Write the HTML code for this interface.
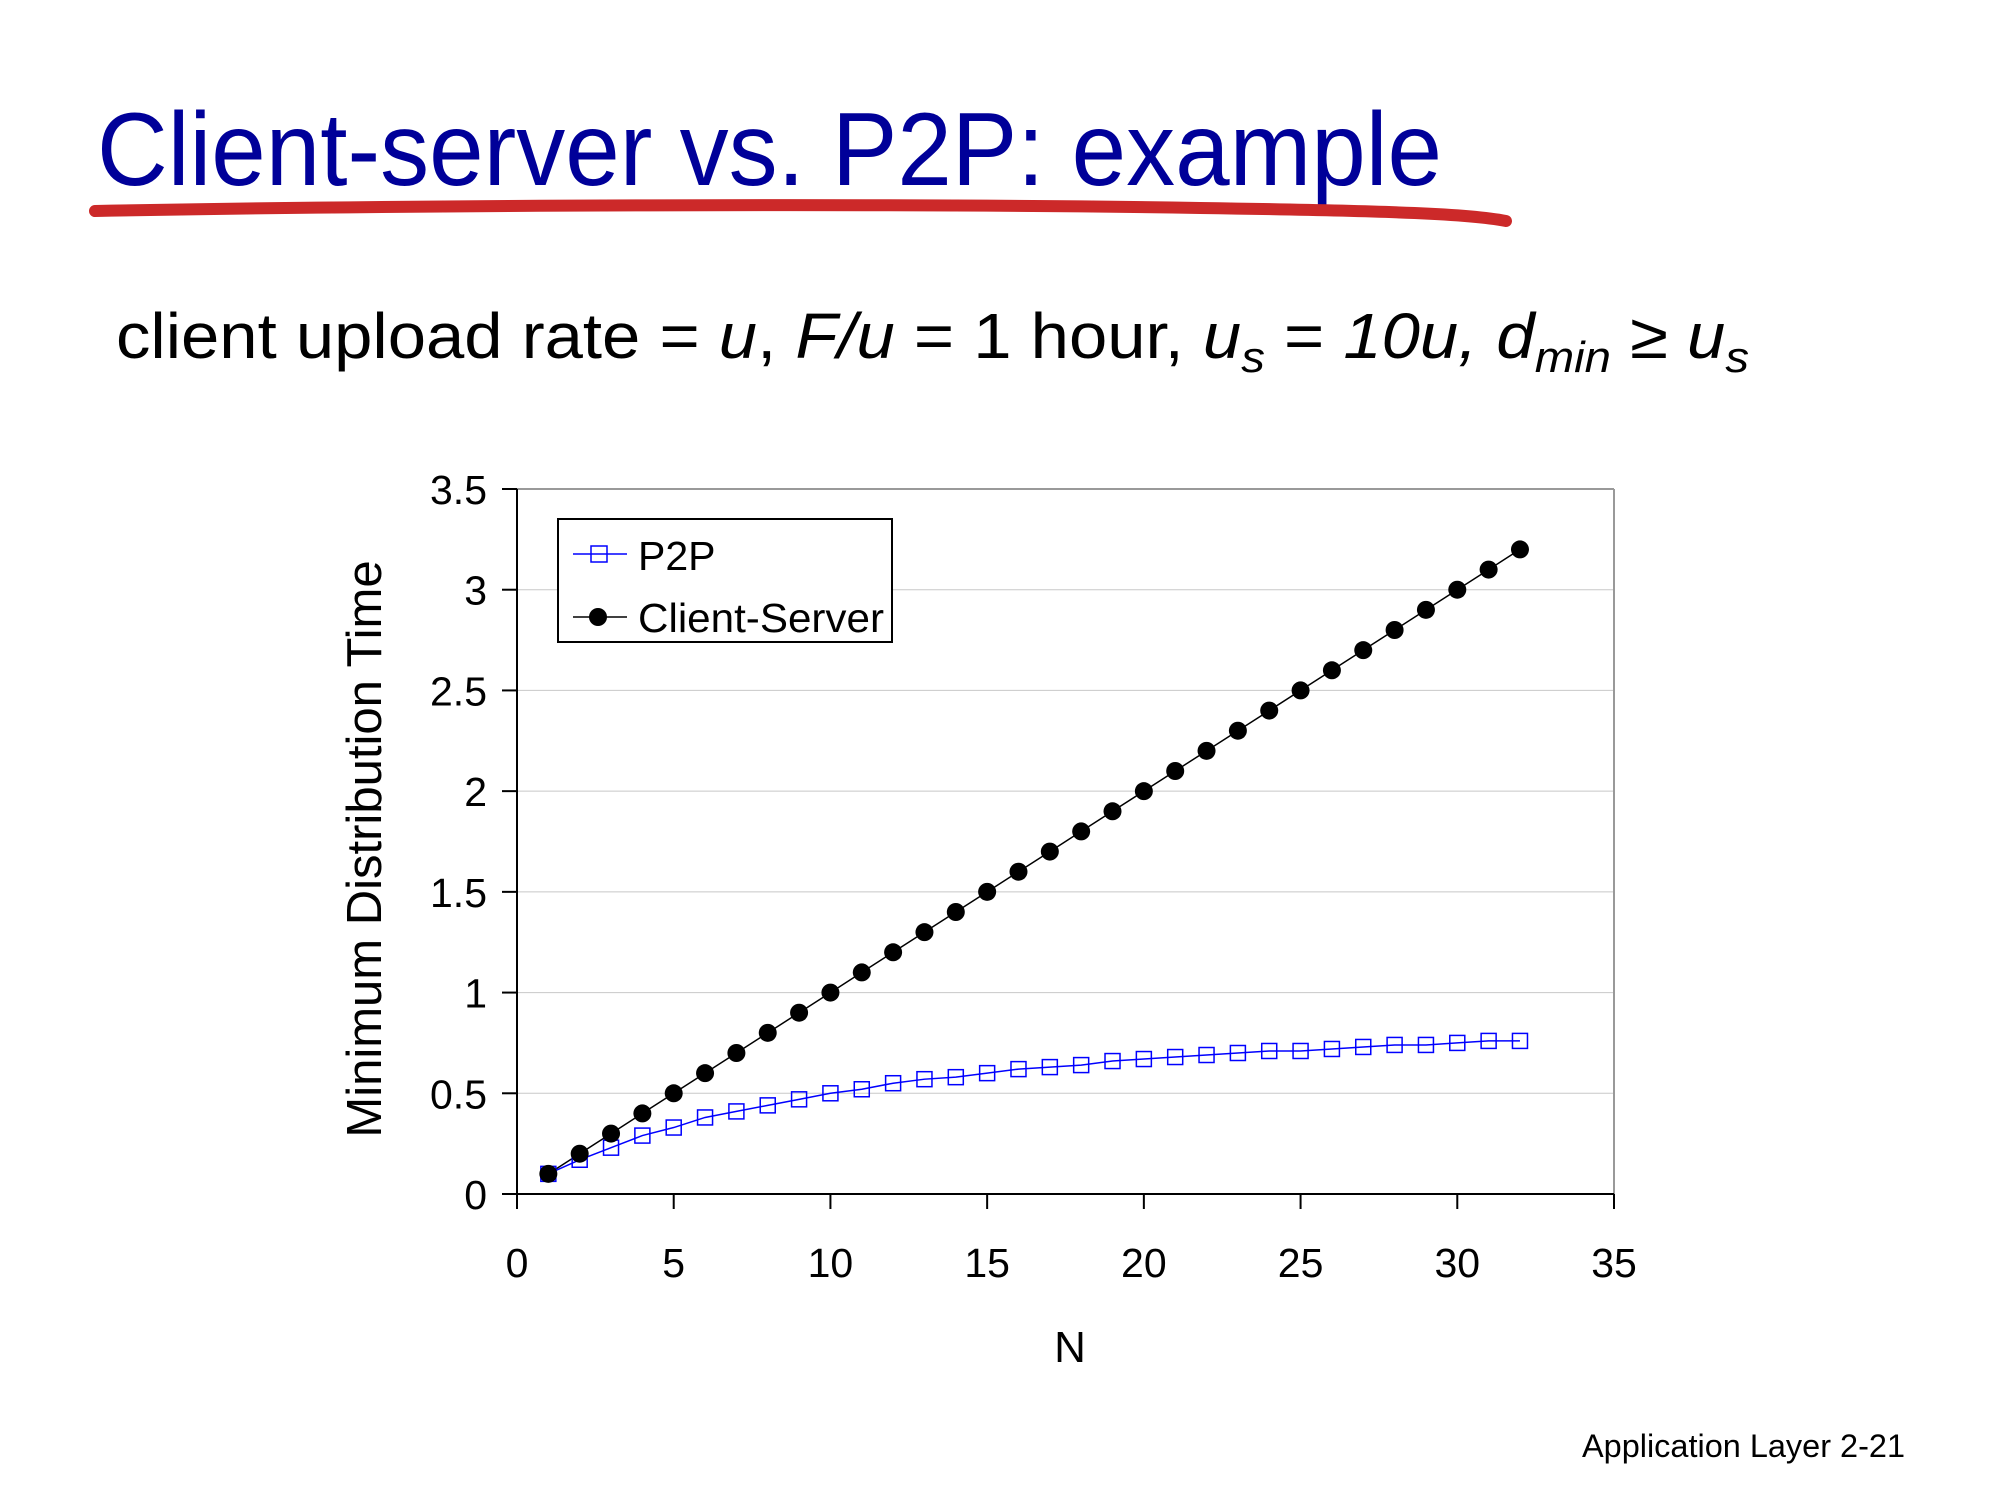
<!DOCTYPE html>
<html><head><meta charset="utf-8">
<style>
html,body{margin:0;padding:0;background:#fff;}
svg{display:block;font-family:"Liberation Sans",sans-serif;}
</style></head>
<body>
<svg id="page" width="2000" height="1500" viewBox="0 0 2000 1500" xmlns="http://www.w3.org/2000/svg">
  <text x="97" y="185" font-size="104" fill="#000099" textLength="1345" lengthAdjust="spacingAndGlyphs">Client-server vs. P2P: example</text>
  <path d="M95,211 C400,205 900,203 1200,208 C1400,211 1470,214 1506,221" stroke="#cc2929" stroke-width="12" fill="none" stroke-linecap="round"/>
  <text x="116" y="358" font-size="64" fill="#000" textLength="1633" lengthAdjust="spacingAndGlyphs">client upload rate = <tspan font-style="italic">u</tspan>,  <tspan font-style="italic">F/u</tspan> = 1 hour,  <tspan font-style="italic">u</tspan><tspan font-style="italic" font-size="44" dy="14">s</tspan><tspan dy="-14"> = </tspan><tspan font-style="italic">10u,</tspan>  <tspan font-style="italic">d</tspan><tspan font-style="italic" font-size="44" dy="14">min</tspan><tspan dy="-14"> ≥ </tspan><tspan font-style="italic">u</tspan><tspan font-style="italic" font-size="44" dy="14">s</tspan></text>
  <g id="chart"></g>
  <text x="1582" y="1457" font-size="32" fill="#000" textLength="323" lengthAdjust="spacingAndGlyphs">Application Layer 2-21</text>
</svg>
<script>
const nValues = [1,2,3,4,5,6,7,8,9,10,11,12,13,14,15,16,17,18,19,20,21,22,23,24,25,26,27,28,29,30,31,32];
const clientServer = [0.1,0.2,0.3,0.4,0.5,0.6,0.7,0.8,0.9,1.0,1.1,1.2,1.3,1.4,1.5,1.6,1.7,1.8,1.9,2.0,2.1,2.2,2.3,2.4,2.5,2.6,2.7,2.8,2.9,3.0,3.1,3.2];
const p2p = [0.1,0.17,0.23,0.29,0.33,0.38,0.41,0.44,0.47,0.5,0.52,0.55,0.57,0.58,0.6,0.62,0.63,0.64,0.66,0.67,0.68,0.69,0.7,0.71,0.71,0.72,0.73,0.74,0.74,0.75,0.76,0.76];
const xTicks = [0,5,10,15,20,25,30,35];
const yTicks = [0,0.5,1,1.5,2,2.5,3,3.5];

const NS = "http://www.w3.org/2000/svg";
const g = document.getElementById('chart');
const X0 = 517, X1 = 1614, Y0 = 1194, Y1 = 489;
const xs = v => X0 + (v - 0) / 35 * (X1 - X0);
const ys = v => Y0 - (v - 0) / 3.5 * (Y0 - Y1);
function mk(tag, attrs, parent) {
  const e = document.createElementNS(NS, tag);
  for (const k in attrs) e.setAttribute(k, attrs[k]);
  (parent || g).appendChild(e);
  return e;
}
yTicks.forEach(t => {
  if (t === 0) return;
  const l = mk('line', {x1: X0, x2: X1, y1: ys(t), y2: ys(t), stroke: t === 3.5 ? '#999' : '#c8c8c8', 'stroke-width': t === 3.5 ? 2 : 1});
  
  
});
const rb = mk('line', {x1: X1, x2: X1, y1: Y1, y2: Y0, stroke: '#999', 'stroke-width': 2});


const ya = mk('line', {x1: X0, x2: X0, y1: Y1, y2: Y0, stroke: '#000', 'stroke-width': 2});


const xa = mk('line', {x1: X0 - 15, x2: X1, y1: Y0, y2: Y0, stroke: '#000', 'stroke-width': 2});


yTicks.forEach(t => {
  const tk = mk('line', {x1: X0 - 15, x2: X0, y1: ys(t), y2: ys(t), stroke: '#000', 'stroke-width': 2});
  
  
  const lb = mk('text', {x: X0 - 30, y: ys(t) + 15, 'font-size': 41, 'text-anchor': 'end', fill: '#000'});
  lb.textContent = String(t);
  
  
});
xTicks.forEach(t => {
  const tk = mk('line', {x1: xs(t), x2: xs(t), y1: Y0, y2: Y0 + 15, stroke: '#000', 'stroke-width': 2});
  
  
  const lb = mk('text', {x: xs(t), y: Y0 + 83, 'font-size': 41, 'text-anchor': 'middle', fill: '#000'});
  lb.textContent = String(t);
  
  
});
const xt = mk('text', {x: 1070, y: 1362, 'font-size': 44, 'text-anchor': 'middle', fill: '#000'});
xt.textContent = 'N';


const yt = mk('text', {x: 0, y: 0, 'font-size': 49, 'text-anchor': 'middle', fill: '#000', transform: 'translate(381,849) rotate(-90)'});
yt.textContent = 'Minimum Distribution Time';


const cl = mk('polyline', {points: nValues.map((n, i) => xs(n) + ',' + ys(clientServer[i])).join(' '), fill: 'none', stroke: '#000', 'stroke-width': 1.5});


const pl = mk('polyline', {points: nValues.map((n, i) => xs(n) + ',' + ys(p2p[i])).join(' '), fill: 'none', stroke: '#0000ff', 'stroke-width': 1.5});


nValues.forEach((n, i) => {
  const s = mk('rect', {x: xs(n) - 7.5, y: ys(p2p[i]) - 7.5, width: 15, height: 15, fill: 'none', stroke: '#0000ff', 'stroke-width': 1.5});
  
  
});
nValues.forEach((n, i) => {
  const c = mk('circle', {cx: xs(n), cy: ys(clientServer[i]), r: 9, fill: '#000'});
  
  
});
const lg = mk('g', {});


const lbx = mk('rect', {x: 558, y: 519, width: 334, height: 123, fill: '#fff', stroke: '#000', 'stroke-width': 2}, lg);


const e1 = mk('g', {}, lg);


mk('line', {x1: 573, x2: 627, y1: 554, y2: 554, stroke: '#0000ff', 'stroke-width': 1.5}, e1);
mk('rect', {x: 591, y: 546, width: 16, height: 16, fill: 'none', stroke: '#0000ff', 'stroke-width': 1.5}, e1);
const t1 = mk('text', {x: 638, y: 570, 'font-size': 41, fill: '#000'}, e1);
t1.textContent = 'P2P';
const e2 = mk('g', {}, lg);


mk('line', {x1: 573, x2: 627, y1: 617, y2: 617, stroke: '#000', 'stroke-width': 1.5}, e2);
mk('circle', {cx: 598, cy: 617, r: 9, fill: '#000'}, e2);
const t2 = mk('text', {x: 638, y: 632, 'font-size': 41, fill: '#000', textLength: 246, lengthAdjust: 'spacingAndGlyphs'}, e2);
t2.textContent = 'Client-Server';
</script>
</body></html>
